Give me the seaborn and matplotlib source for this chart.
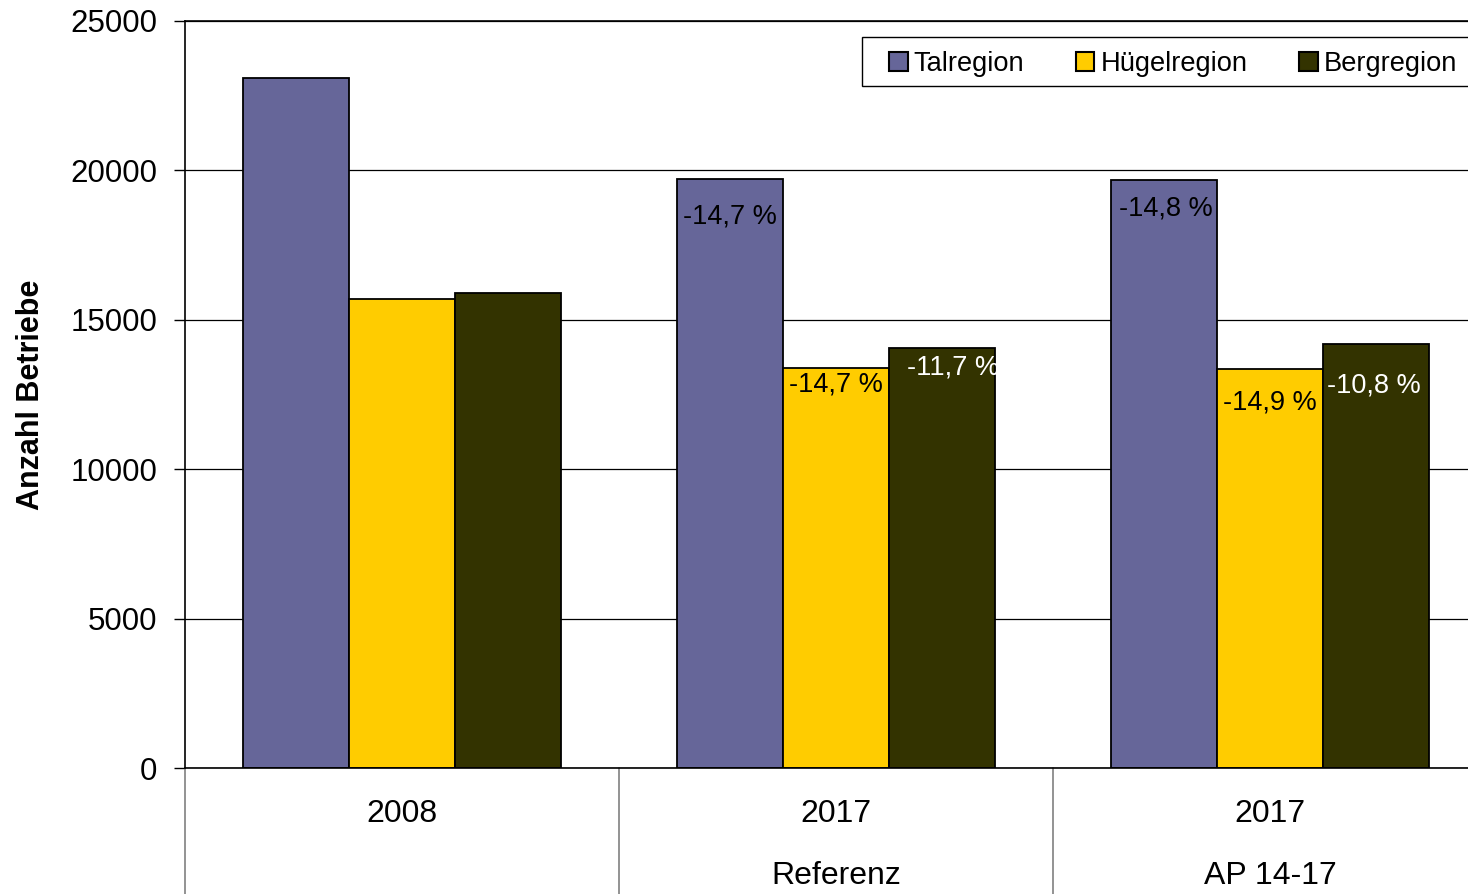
import pandas as pd
import numpy as np
import matplotlib
matplotlib.use("Agg")
import matplotlib.pyplot as plt
from matplotlib.patches import Rectangle
import seaborn as sns

# Daten
gruppen = ["2008", "2017 Referenz", "2017 AP 14-17"]
zeile1 = ["2008", "2017", "2017"]
zeile2 = ["", "Referenz", "AP 14-17"]
regionen = ["Talregion", "Hügelregion", "Bergregion"]
tal = [23100, 19710, 19680]
huegel = [15690, 13390, 13350]
berg = [15900, 14050, 14180]
# Veränderung gegenüber 2008
lab_tal = ["", "-14,7 %", "-14,8 %"]
lab_huegel = ["", "-14,7 %", "-14,9 %"]
lab_berg = ["", "-11,7 %", "-10,8 %"]

farben = ["#666699", "#FFCC00", "#333300"]

df = pd.DataFrame({
    "gruppe": gruppen * 3,
    "region": np.repeat(regionen, 3),
    "wert": tal + huegel + berg,
})

sns.set_theme(style="white")
plt.rcParams["font.family"] = ["Liberation Sans", "DejaVu Sans"]
plt.rcParams["text.color"] = "black"
plt.rcParams["axes.labelcolor"] = "black"

W, H = 1468, 894
fig = plt.figure(figsize=(W / 100, H / 100), dpi=100)
ax = fig.add_axes([185 / W, 1 - 768 / H, 1 - 185 / W, 747 / H])

sns.barplot(data=df, x="gruppe", y="wert", hue="region", order=gruppen,
            hue_order=regionen, palette=farben, saturation=1, width=0.733,
            edgecolor="black", linewidth=1.3, ax=ax)

ax.set_ylim(0, 25000)
ax.set_xlim(-0.5, 2.456)
ax.set_yticks(range(0, 25001, 5000))
ax.yaxis.grid(True, color="black", lw=0.9)
ax.set_axisbelow(True)
for s in ["left", "top", "bottom"]:
    ax.spines[s].set_color("black")
    ax.spines[s].set_linewidth(1.2)
ax.spines["right"].set_visible(False)
ax.tick_params(axis="y", left=True, length=8, width=1, pad=12, labelsize=22.5,
               colors="black")
ax.tick_params(axis="x", bottom=False, labelbottom=False)
ax.set_xlabel("")
ax.set_ylabel("Anzahl Betriebe", fontsize=22, fontweight="bold")
ax.yaxis.set_label_coords((46 - 185) / 1283, 0.5)

# Kategorie-Beschriftung mit Trennlinien
trans = ax.get_xaxis_transform()
for i in range(3):
    ax.text(i, -0.0616, zeile1[i], transform=trans, ha="center", va="center",
            fontsize=23)
    ax.text(i, -0.1446, zeile2[i], transform=trans, ha="center", va="center",
            fontsize=23)
    ax.plot([i - 0.5, i - 0.5], [0, -0.2], transform=trans, color="#808080",
            lw=1.2, clip_on=False)

# Prozent-Beschriftungen
px = 25000 / 747
labels = [lab_tal, lab_huegel, lab_berg]
abstand = [[0, 37, 29], [0, 17, 33], [0, 19, 41]]
versatz = [[0, 0, 2], [0, 0, 0], [0, 11, -2]]
tfarbe = ["black", "black", "white"]
for k, cont in enumerate(ax.containers):
    for i, bar in enumerate(cont):
        if not labels[k][i]:
            continue
        x = bar.get_x() + bar.get_width() / 2 + versatz[k][i] / 434
        y = bar.get_height() - abstand[k][i] * px
        t = ax.text(x, y, labels[k][i], ha="center", va="center",
                    fontsize=19.5, color=tfarbe[k])
        t.set_clip_path(bar)

# Legende mit eigenem Rahmen
rahmen = Rectangle((862 / W, 1 - 86 / H), 0.5, 49 / H,
                   transform=fig.transFigure, facecolor="white",
                   edgecolor="black", lw=1, zorder=4.5, clip_on=False)
ax.add_artist(rahmen)
leg = ax.legend(loc="center left", bbox_to_anchor=(889 / W, 1 - 64 / H),
                bbox_transform=fig.transFigure, ncol=3, fontsize=19.6,
                frameon=False, handlelength=0.68, handleheight=0.68,
                handletextpad=0.22, columnspacing=1.9, borderpad=0,
                borderaxespad=0)
leg.set_zorder(6)
for h in leg.legend_handles:
    h.set_edgecolor("black")
    h.set_linewidth(1.5)

fig.savefig("out.png", dpi=100)
